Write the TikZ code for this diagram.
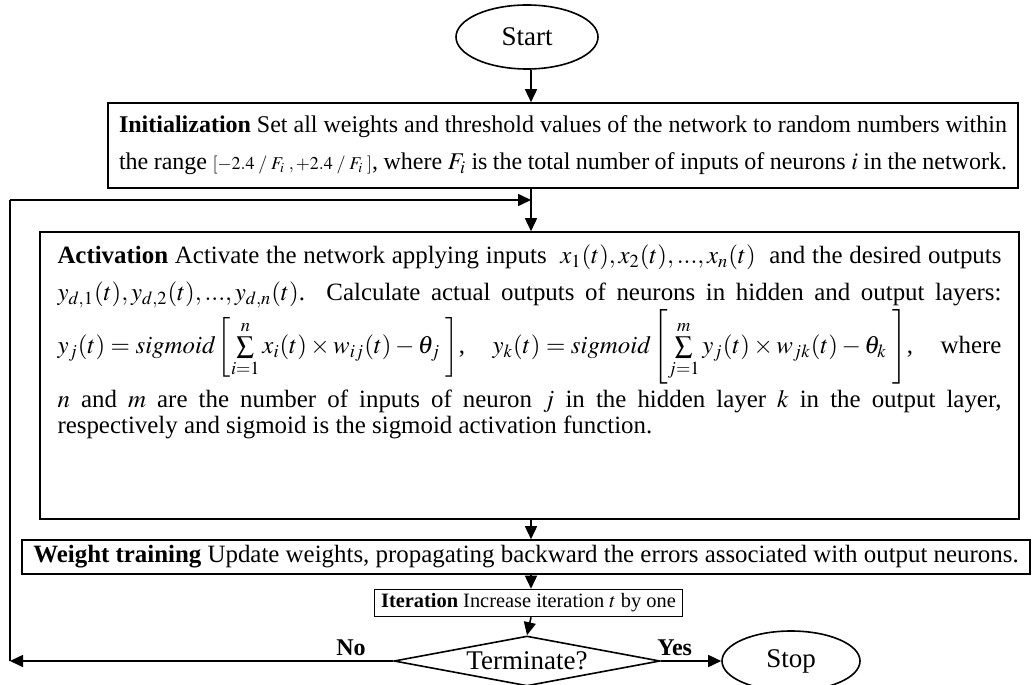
\documentclass[tikz,border=0pt]{standalone}
\usepackage{mathptmx}
\usepackage{fontspec}
\setmainfont{Liberation Serif}
\usetikzlibrary{arrows.meta,shapes.geometric}

\begin{document}
\begin{tikzpicture}[x=0.5pt, y=-0.5pt, font=\fontsize{12.45}{14}\selectfont,
  line width=0.8pt,
  process/.style={draw, rectangle, inner ysep=0pt},
  startstop/.style={draw, ellipse, inner sep=0pt, font=\fontsize{13.5}{16}\selectfont},
  decision/.style={draw, diamond, aspect=4.9, inner sep=0pt, font=\fontsize{13.5}{16}\selectfont},
  lbl/.style={font=\fontsize{12}{14}\selectfont\bfseries, inner sep=2pt},
  flow/.style={-{Triangle[length=6.5pt, width=6pt]}}]
\useasboundingbox (0,0) rectangle (1036,684);
% start / stop
\node[startstop, minimum width=71pt, minimum height=32pt] (start) at (527,37) {Start};
\node[startstop, minimum width=69pt, minimum height=30pt] (stop) at (791,661) {Stop};
\coordinate (join) at (531,200);
% process boxes
\node[process, minimum width=455pt, minimum height=42.5pt, text width=444pt, align=justify,
  font=\fontsize{12}{14}\selectfont] (init) at (563,145.5)
  {\baselineskip=18.5pt \textbf{Initialization} Set all weights and threshold values of the network to random numbers within\linebreak
  the range {\small$[-2.4\;/\;F_i\;,+2.4\;/\;F_i\;]$}, where $F_i$ is the total number of inputs of neurons $i$ in the network.\par};
\node[process, minimum width=489.5pt, minimum height=143.5pt, text width=472pt, align=justify] (act) at (529.5,375.5)
  {\lineskiplimit=0pt \lineskip=1pt \baselineskip=13pt
  \textbf{Activation} Activate the network applying inputs \ $x_1(t), x_2(t), ...,x_n(t)$ \ and the desired outputs\linebreak
  \rule{0pt}{14pt}$y_{d,1}(t), y_{d,2}(t), ...,y_{d,n}(t)$. Calculate actual outputs of neurons in hidden and output layers:\linebreak
  \rule[-17.5pt]{0pt}{38.5pt}\mbox{$y_j(t) = \mathit{sigmoid}\left[\sum\limits_{i=1}^{n} x_i(t)\times w_{ij}(t) - \theta_j\;\right]$}, \
  \mbox{$y_k(t) = \mathit{sigmoid}\left[\sum\limits_{j=1}^{m} y_j(t)\times w_{jk}(t) - \theta_k\;\right]$}, \ where\linebreak
  $n$ and $m$ are the number of inputs of neuron $j$ in the hidden layer $k$ in the output layer,\linebreak
  respectively and sigmoid is the sigmoid activation function.\rule[-36pt]{0pt}{0pt}\par};
\node[process, minimum width=504pt, minimum height=17pt] (train) at (526,557)
  {\textbf{Weight training} Update weights, propagating backward the errors associated with output neurons.};
\node[process, minimum width=151.5pt, minimum height=13.5pt, font=\fontsize{10.2}{12}\selectfont] (iter) at (528.5,603)
  {\textbf{Iteration} Increase iteration $t$ by one};
\node[decision, minimum width=133pt, minimum height=25pt] (check) at (527,661) {Terminate?};
\coordinate (back) at (10,661);
% connectors
\draw[flow] (start.south -| join) -- (join |- init.north);
\draw[flow] (join |- init.south) -- (join |- act.north);
\draw[flow] (join |- act.south) -- (join |- train.north);
\draw[flow] (join |- train.south) -- (join |- iter.north);
\draw[flow] (join |- iter.south) -- (check.north);
\draw[flow] (check.east) -- node[lbl, above, pos=0.23] (yes) {Yes} (stop.west);
\draw[flow] (check.west) -- node[lbl, above, pos=0.11] (no) {No} (back);
\draw (back) -- (back |- join);
\draw[flow] (back |- join) -- (join);
\end{tikzpicture}
\end{document}
